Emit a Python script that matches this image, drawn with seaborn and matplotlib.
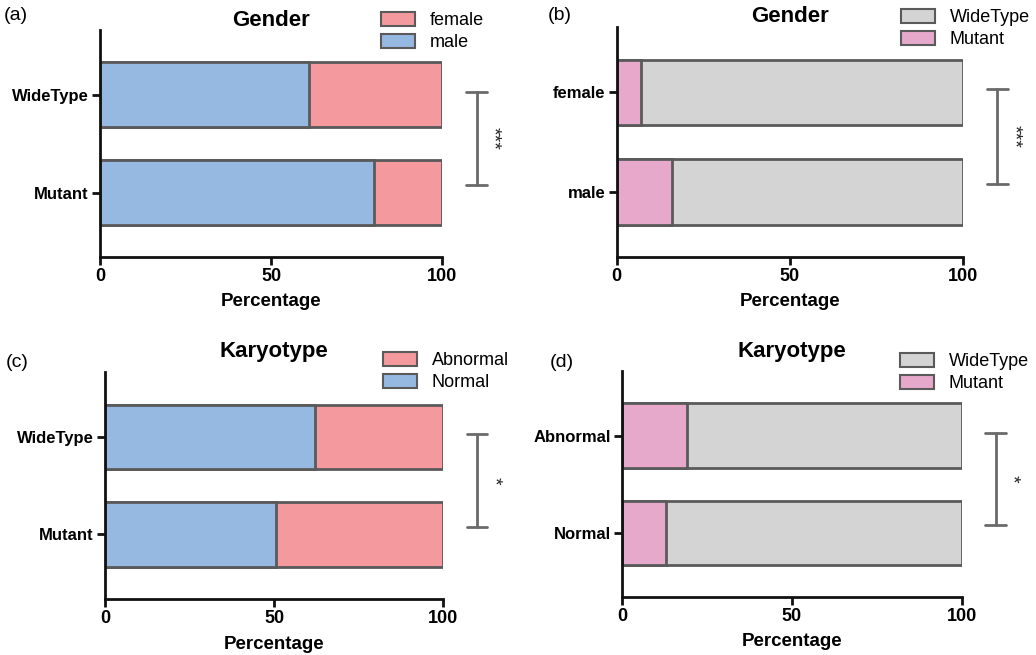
import matplotlib
matplotlib.use("Agg")
import matplotlib.pyplot as plt
import seaborn as sns
import pandas as pd
from matplotlib.patches import Patch

sns.set_theme(style="white")
plt.rcParams['font.family'] = ['Liberation Sans', 'DejaVu Sans']
plt.rcParams['text.color'] = 'black'
plt.rcParams['axes.labelcolor'] = 'black'
plt.rcParams['xtick.color'] = 'black'
plt.rcParams['ytick.color'] = 'black'

# ---- data ----
a_groups = ["WideType", "Mutant"]
a_male = [61, 80]
a_female = [39, 20]

b_groups = ["female", "male"]
b_mutant = [7, 16]
b_widetype = [93, 84]

c_groups = ["WideType", "Mutant"]
c_normal = [62, 50.5]
c_abnormal = [38, 49.5]

d_groups = ["Abnormal", "Normal"]
d_mutant = [19, 13]
d_widetype = [81, 87]

x_ticks = [0, 50, 100]

BLUE = "#96b9e2"
RED = "#f49a9e"
GRAY = "#d4d4d4"
PINK = "#e6a9cc"
EDGE = "#5a5a5a"
BRK = "#6a6a6a"

W, H = 1036, 655
fig = plt.figure(figsize=(W / 100, H / 100), dpi=100)


def px_axes(left, right, top, bottom):
    return fig.add_axes([left / W, 1 - bottom / H, (right - left) / W, (bottom - top) / H])


def panel(ax, groups, first, second, c1, c2, lab1, lab2, title, letter, stars,
          ylim, leg_xy, letter_xy, title_y):
    total = [f + s for f, s in zip(first, second)]
    df_tot = pd.DataFrame({"g": groups, "v": total})
    df_first = pd.DataFrame({"g": groups, "v": first})
    sns.barplot(data=df_tot, y="g", x="v", orient="h", color=c2, width=0.66,
                edgecolor=EDGE, linewidth=2, saturation=1, ax=ax, order=groups)
    sns.barplot(data=df_first, y="g", x="v", orient="h", color=c1, width=0.66,
                edgecolor=EDGE, linewidth=2, saturation=1, ax=ax, order=groups)
    ax.set_xlim(0, 100)
    ax.set_ylim(*ylim)
    ax.set_xticks(x_ticks)
    ax.set_xticklabels([str(t) for t in x_ticks], fontsize=13, fontweight="bold")
    ax.set_yticks(range(len(groups)))
    ax.set_yticklabels(groups, fontsize=12, fontweight="bold")
    ax.set_ylabel("")
    ax.set_xlabel("Percentage", fontsize=13.5, fontweight="bold", labelpad=6)
    for s in ["top", "right"]:
        ax.spines[s].set_visible(False)
    for s in ["left", "bottom"]:
        ax.spines[s].set_color("#111111")
        ax.spines[s].set_linewidth(2)
    ax.tick_params(axis="both", which="both", direction="out", length=6, width=2,
                   color="#111111", left=True, bottom=True, pad=2)
    ax.set_facecolor("white")
    # significance bracket
    xb, y0, y1 = 110, -0.03, 0.92
    ax.plot([xb, xb], [y0, y1], color=BRK, lw=2, clip_on=False)
    ax.plot([xb - 3, xb + 3], [y0, y0], color=BRK, lw=2, clip_on=False)
    ax.plot([xb - 3, xb + 3], [y1, y1], color=BRK, lw=2, clip_on=False)
    ax.text(xb + 4.8, (y0 + y1) / 2, stars, rotation=-90, ha="center", va="center",
            fontsize=14, color="#222222", clip_on=False)
    # title
    fig.text(ax.get_position().x0 + ax.get_position().width / 2, 1 - title_y / H, title,
             ha="center", va="center", fontsize=16, fontweight="bold")
    # panel letter
    fig.text(letter_xy[0] / W, 1 - letter_xy[1] / H, letter, ha="left", va="center",
             fontsize=14)
    handles = [Patch(facecolor=c2, edgecolor=EDGE, linewidth=1.5, label=lab2),
               Patch(facecolor=c1, edgecolor=EDGE, linewidth=1.5, label=lab1)]
    fig.legend(handles=handles, loc="upper left",
               bbox_to_anchor=(leg_xy[0] / W, 1 - leg_xy[1] / H),
               frameon=False, fontsize=13, handlelength=1.9, handleheight=0.85,
               handletextpad=0.8, labelspacing=0.25, borderpad=0, borderaxespad=0)


ax_a = px_axes(100, 442.3, 30, 257)
panel(ax_a, a_groups, a_male, a_female, BLUE, RED, "male", "female", "Gender", "(a)", "***",
      (1.65, -0.655), (381, 12), (4, 16), 20)

ax_b = px_axes(616.7, 962.7, 26.7, 256.7)
panel(ax_b, b_groups, b_mutant, b_widetype, PINK, GRAY, "Mutant", "WideType", "Gender", "(b)", "***",
      (1.65, -0.66), (901, 9), (548, 16), 16)

ax_c = px_axes(105, 443.3, 371.7, 599.3)
panel(ax_c, c_groups, c_normal, c_abnormal, BLUE, RED, "Normal", "Abnormal", "Karyotype", "(c)", "*",
      (1.665, -0.67), (383, 352), (6, 362), 352)

ax_d = px_axes(622.3, 961.7, 370.7, 596.7)
panel(ax_d, d_groups, d_mutant, d_widetype, PINK, GRAY, "Mutant", "WideType", "Karyotype", "(d)", "*",
      (1.65, -0.665), (900, 353), (550, 362), 351)

fig.savefig("out.png", dpi=100, facecolor="white")
